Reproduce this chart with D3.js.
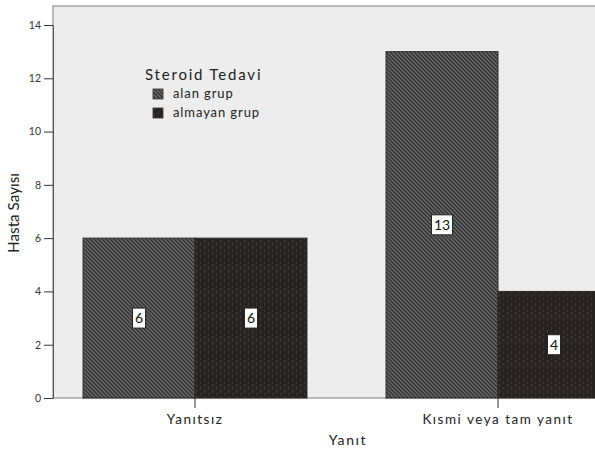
<!DOCTYPE html>
<html>
<head>
<meta charset="utf-8">
<script src="https://cdn.jsdelivr.net/npm/d3@7"></script>
<style>
  html, body { margin: 0; padding: 0; background: #fff; }
  svg { display: block; }
  text { font-family: "Lato", "Open Sans", sans-serif; fill: #222; }
</style>
</head>
<body>
<svg id="chart" width="595" height="456"></svg>
<script>
// Response categories and treatment groups
const categories = ["Yanıtsız", "Kısmi veya tam yanıt"];
const groups = ["alan grup", "almayan grup"];
// Patient counts per category, one array per group
const alanGrup = [6, 13];
const almayanGrup = [6, 4];
const yTicks = [0, 2, 4, 6, 8, 10, 12, 14];

const W = 595, H = 456;
const plot = { left: 53, top: 6, right: 595, bottom: 398 };

const svg = d3.select("#chart");
const defs = svg.append("defs");

// Diagonal hatch for "alan grup"
const p1 = defs.append("pattern")
  .attr("id", "hatchAlan").attr("patternUnits", "userSpaceOnUse")
  .attr("width", 4).attr("height", 4);
p1.append("rect").attr("width", 4).attr("height", 4).attr("fill", "#6b6b6b");
p1.append("path").attr("d", "M-1,-1 L5,5 M-1,3 L1,5 M3,-1 L5,1")
  .attr("stroke", "#2e2e2e").attr("stroke-width", 1.3);

// Dense dark texture for "almayan grup"
const p2 = defs.append("pattern")
  .attr("id", "hatchAlmayan").attr("patternUnits", "userSpaceOnUse")
  .attr("width", 8).attr("height", 6);
p2.append("rect").attr("width", 8).attr("height", 6).attr("fill", "#282323");
p2.append("rect").attr("x", 1).attr("y", 0).attr("width", 1).attr("height", 3).attr("fill", "#433c3c");
p2.append("rect").attr("x", 5).attr("y", 3).attr("width", 1).attr("height", 3).attr("fill", "#3d3737");
p2.append("rect").attr("x", 3).attr("y", 1).attr("width", 1).attr("height", 1).attr("fill", "#363030");

const fills = ["url(#hatchAlan)", "url(#hatchAlmayan)"];

// Plot background
svg.append("rect")
  .attr("x", plot.left).attr("y", plot.top)
  .attr("width", plot.right - plot.left + 5).attr("height", plot.bottom - plot.top)
  .attr("fill", "#ededed").attr("stroke", "#7a7a7a").attr("stroke-width", 1);

const y = d3.scaleLinear().domain([0, 14]).range([plot.bottom, plot.top + 19]);

const x0 = d3.scaleBand().domain(categories)
  .range([43.5, 649.5]).paddingInner(0.261).paddingOuter(0.1305);
const x1 = d3.scaleBand().domain(groups).range([0, x0.bandwidth()]);

const data = categories.map((c, i) => ({
  category: c,
  values: [
    { group: groups[0], value: alanGrup[i], gi: 0 },
    { group: groups[1], value: almayanGrup[i], gi: 1 }
  ]
}));

const clip = defs.append("clipPath").attr("id", "plotClip");
clip.append("rect").attr("x", plot.left).attr("y", plot.top)
  .attr("width", plot.right - plot.left).attr("height", plot.bottom - plot.top + 1);

const barsG = svg.append("g").attr("clip-path", "url(#plotClip)");
const cat = barsG.selectAll("g.cat").data(data).join("g")
  .attr("transform", d => `translate(${x0(d.category)},0)`);

cat.selectAll("rect").data(d => d.values).join("rect")
  .attr("x", d => x1(d.group))
  .attr("y", d => y(d.value))
  .attr("width", x1.bandwidth())
  .attr("height", d => y(0) - y(d.value))
  .attr("fill", d => fills[d.gi])
  .attr("stroke", "#2a2a2a").attr("stroke-width", 1);

// Value labels in white boxes
const lab = cat.selectAll("g.lab").data(d => d.values).join("g")
  .attr("transform", d => `translate(${x1(d.group) + x1.bandwidth() / 2},${(y(0) + y(d.value)) / 2})`);
lab.each(function(d) {
  const g = d3.select(this);
  g.append("text").text(d.value)
    .attr("text-anchor", "middle").attr("dy", "0.36em")
    .style("font-size", "14px").style("fill", "#111");
  const w = String(d.value).length * 8 + 5;
  g.insert("rect", "text").attr("x", -w / 2).attr("y", -10)
    .attr("width", w).attr("height", 20)
    .attr("fill", "#fff").attr("stroke", "#222").attr("stroke-width", 1);
});

// Y axis
const yAxis = svg.append("g").attr("transform", `translate(${plot.left},0)`)
  .call(d3.axisLeft(y).tickValues(yTicks).tickSize(9).tickPadding(3));
yAxis.select(".domain").attr("stroke", "#555");
yAxis.selectAll(".tick line").attr("stroke", "#333");
yAxis.selectAll(".tick text").style("font-size", "10.5px").style("fill", "#333")
  .style("font-family", "Lato, sans-serif");

// X axis
const xAxis = svg.append("g").attr("transform", `translate(0,${plot.bottom})`)
  .call(d3.axisBottom(x0).tickSize(10).tickPadding(6));
xAxis.select(".domain").remove();
xAxis.selectAll(".tick line").attr("stroke", "#333");
xAxis.selectAll(".tick text").style("font-size", "13.5px").style("fill", "#222")
  .style("letter-spacing", "1.5px").style("font-family", "Lato, sans-serif");

// Axis titles
svg.append("text").text("Yanıt")
  .attr("x", 348).attr("y", 445).attr("text-anchor", "middle")
  .style("font-size", "14px").style("letter-spacing", "1.6px");

svg.append("text").text("Hasta Sayısı")
  .attr("transform", "translate(19,213) rotate(-90)")
  .attr("text-anchor", "middle")
  .attr("textLength", 80).attr("lengthAdjust", "spacingAndGlyphs")
  .style("font-size", "14.5px");

// Legend
const legend = svg.append("g").attr("transform", "translate(145,0)");
legend.append("text").text("Steroid Tedavi")
  .attr("x", 0).attr("y", 80)
  .style("font-size", "15px").style("letter-spacing", "1.8px");
groups.forEach((gname, i) => {
  const yy = 89 + i * 19;
  legend.append("rect").attr("x", 8).attr("y", yy)
    .attr("width", 10).attr("height", 10)
    .attr("fill", fills[i]).attr("stroke", "#333").attr("stroke-width", 0.8);
  legend.append("text").text(gname)
    .attr("x", 28).attr("y", yy + 9)
    .style("font-size", "13px").style("letter-spacing", "0.9px");
});
</script>
</body>
</html>
